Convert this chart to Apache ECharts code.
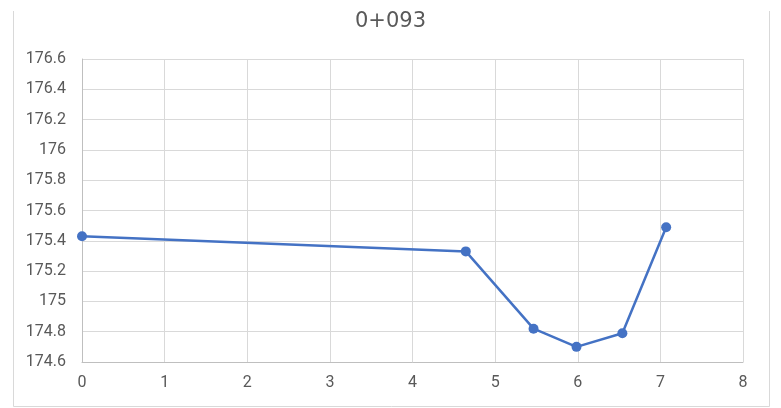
<!DOCTYPE html>
<html>
<head>
<meta charset="utf-8">
<script src="https://cdn.jsdelivr.net/npm/echarts@6/dist/echarts.min.js"></script>
<style>
html,body{margin:0;padding:0;background:#fff;}
#c{width:781px;height:408px;}
</style>
</head>
<body>
<div id="c"></div>
<script>
const titleText = "0+093";
const xValues = [0, 4.645, 5.465, 5.985, 6.54, 7.07];
const yValues = [175.43, 175.33, 174.82, 174.70, 174.79, 175.49];
const xMin = 0, xMax = 8, xStep = 1;
const yMin = 174.6, yMax = 176.6, yStep = 0.2;

const chart = echarts.init(document.getElementById('c'), null, {renderer: 'canvas'});
const textColor = '#595959';
const font = 'Roboto, "Noto Sans", sans-serif';
const borderStyle = {stroke: '#d9d9d9', lineWidth: 1};
chart.setOption({
  animation: false,
  backgroundColor: '#fff',
  title: {
    text: titleText,
    left: 'center',
    top: 6,
    textStyle: {color: textColor, fontSize: 21, fontWeight: 'normal', fontFamily: '"DejaVu Sans", sans-serif'}
  },
  graphic: [
    {type: 'line', shape: {x1: 13.5, y1: 11, x2: 13.5, y2: 406.5}, style: borderStyle, silent: true, z: -1},
    {type: 'line', shape: {x1: 769.5, y1: 11, x2: 769.5, y2: 406.5}, style: borderStyle, silent: true, z: -1},
    {type: 'line', shape: {x1: 13.5, y1: 406.5, x2: 769.5, y2: 406.5}, style: borderStyle, silent: true, z: -1}
  ],
  grid: {left: 82, right: 38, top: 59, bottom: 46, containLabel: false},
  xAxis: {
    type: 'value',
    min: xMin, max: xMax, interval: xStep,
    axisLine: {show: true, lineStyle: {color: '#bfbfbf', width: 1}},
    axisTick: {show: false},
    splitLine: {show: true, lineStyle: {color: '#d9d9d9', width: 1}},
    axisLabel: {color: textColor, fontSize: 16, fontFamily: font, margin: 13}
  },
  yAxis: {
    type: 'value',
    min: yMin, max: yMax, interval: yStep,
    axisLine: {show: true, lineStyle: {color: '#bfbfbf', width: 1}},
    axisTick: {show: false},
    splitLine: {show: true, lineStyle: {color: '#d9d9d9', width: 1}},
    axisLabel: {
      color: textColor, fontSize: 16, fontFamily: font, margin: 16,
      formatter: v => String(parseFloat(v.toFixed(1)))
    }
  },
  series: [{
    type: 'line',
    data: xValues.map((x, i) => [x, yValues[i]]),
    symbol: 'circle',
    symbolSize: 10,
    lineStyle: {color: '#4472C4', width: 2.5},
    itemStyle: {color: '#4472C4'},
    clip: false
  }]
});
</script>
</body>
</html>
